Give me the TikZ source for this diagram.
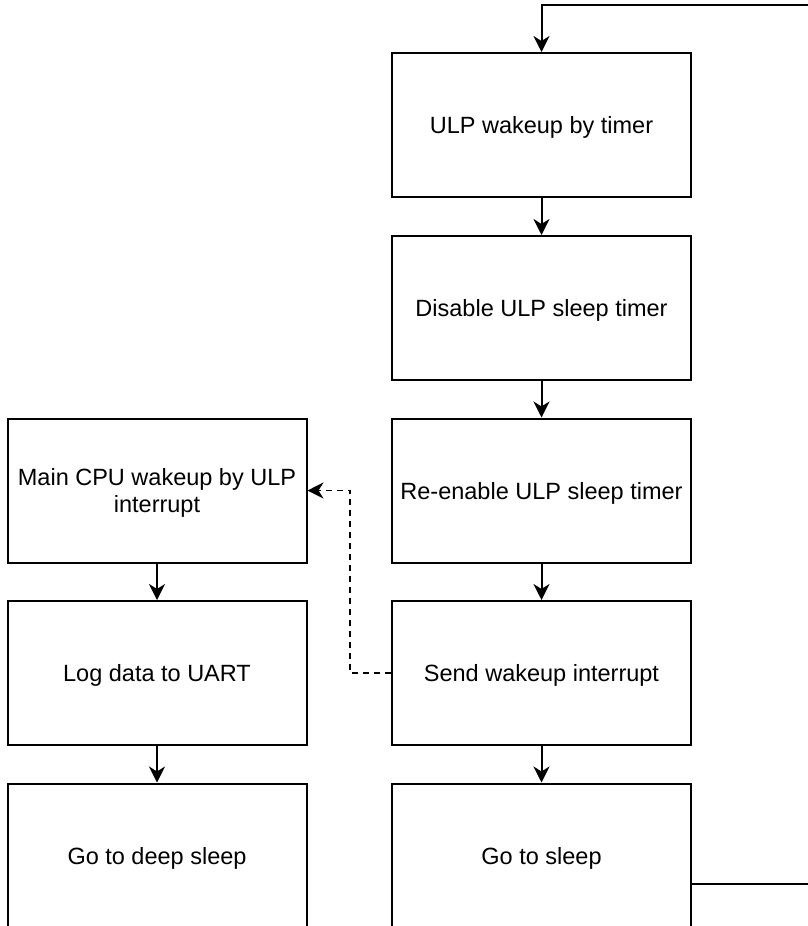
\documentclass[tikz,border=0pt]{standalone}
\usepackage{fontspec}
\setmainfont{Liberation Sans}
\usetikzlibrary{arrows.meta,calc}
\begin{document}
\begin{tikzpicture}[x=1pt,y=-1pt,
  box/.style={draw=black,line width=2pt,minimum width=299pt,minimum height=144pt,inner sep=0pt,align=center,text depth=0pt,font=\fontsize{23.5}{27}\selectfont},
  arr/.style={line width=2pt,-{Stealth[length=16pt,width=16pt,inset=5pt]}},
  dashedarr/.style={arr,line width=1.6pt,dash pattern=on 6pt off 5pt}]
\useasboundingbox (0,0) rectangle (807,926);
\node[box] (ulp) at (541.5,125) {ULP wakeup by timer};
\node[box] (dis) at (541.5,308) {Disable ULP sleep timer};
\node[box] (reen) at (541.5,490.5) {Re-enable ULP sleep timer};
\node[box] (send) at (541.5,673) {Send wakeup interrupt};
\node[box] (sleep) at (541.5,855.5) {Go to sleep};
\node[box] (main) at (157,490.5) {Main CPU wakeup by ULP\\interrupt};
\node[box] (log) at (157,673) {Log data to UART};
\node[box] (deep) at (157,855.5) {Go to deep sleep};
\draw[arr] (ulp) -- (dis);
\draw[arr] (dis) -- (reen);
\draw[arr] (reen) -- (send);
\draw[arr] (send) -- (sleep);
\draw[arr] (main) -- (log);
\draw[arr] (log) -- (deep);
\coordinate (sleepout) at (691,884);
\coordinate (loopr) at (840,5);
\coordinate (dashx) at (350,673);
\draw[arr] (sleepout) -| (loopr) -| (ulp.north);
\draw[dashedarr] (send.west) -- (dashx) |- (main.east);
\end{tikzpicture}
\end{document}
